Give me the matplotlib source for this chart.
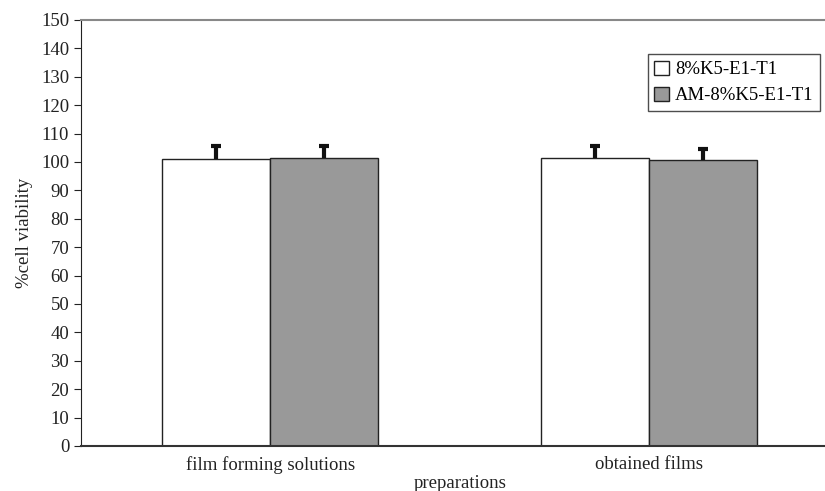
import numpy as np
import matplotlib
matplotlib.use("Agg")
import matplotlib.pyplot as plt

plt.rcParams['font.family'] = ['Liberation Serif', 'DejaVu Serif']

categories = ["film forming solutions", "obtained films"]
series_names = ["8%K5-E1-T1", "AM-8%K5-E1-T1"]
viability_plain = [101.0, 101.3]
viability_am = [101.5, 100.6]
err_plain = [4.5, 4.2]
err_am = [4.0, 4.0]
yticks = list(range(0, 151, 10))

fig = plt.figure(figsize=(8.25, 4.91), dpi=100)
ax = fig.add_axes([81/825, 1 - 446/491, 743/825, 426/491])

x = np.arange(len(categories))
w = 0.285
ax.bar(x - w/2, viability_plain, w, color="white", edgecolor="#222222", linewidth=1.0,
       label=series_names[0], zorder=2)
ax.bar(x + w/2, viability_am, w, color="#999999", edgecolor="#222222", linewidth=1.0,
       label=series_names[1], zorder=2)

# only the upper half of the error bar, with a cap on top
for xs, vals, errs in [(x - w/2, viability_plain, err_plain),
                       (x + w/2, viability_am, err_am)]:
    tops = np.array(vals) + np.array(errs)
    ax.vlines(xs, vals, tops, color="#111111", linewidth=3, zorder=3)
    ax.plot(xs, tops, linestyle="none", marker="_", markersize=7,
            markeredgewidth=3, color="#111111", zorder=3)

ax.set_xlim(-0.499, 1.462)
ax.set_ylim(0, 150)
ax.set_yticks(yticks)
ax.set_xticks(x)
ax.set_xticklabels(categories)
ax.tick_params(axis="x", length=0, labelsize=13.5, pad=7, colors="#222222")
ax.tick_params(axis="y", direction="out", length=5, labelsize=13.5, colors="#222222")
ax.spines["right"].set_visible(False)
ax.spines["top"].set_color("#888888")
ax.spines["top"].set_linewidth(1.5)
ax.spines["left"].set_color("#222222")
ax.spines["bottom"].set_color("#333333")
ax.spines["bottom"].set_linewidth(1.5)

ax.set_ylabel("%cell viability", fontsize=13.5, color="#222222", labelpad=6)
ax.set_xlabel("preparations", fontsize=13.5, color="#222222")
ax.xaxis.set_label_coords(0.51, -0.068)

leg = ax.legend(loc="upper right", bbox_to_anchor=(820/825, 1 - 54/491),
                bbox_transform=fig.transFigure, fontsize=13.5, frameon=True,
                fancybox=False, edgecolor="#222222", handlelength=0.8,
                handleheight=0.8, handletextpad=0.3, borderpad=0.35,
                labelspacing=0.45, borderaxespad=0)
leg.get_frame().set_linewidth(1.0)

fig.savefig("out.png", dpi=100)
